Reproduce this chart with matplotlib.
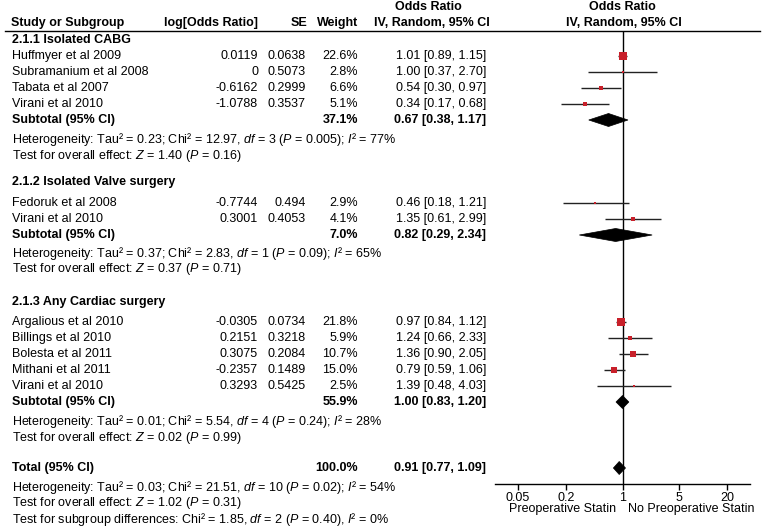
import numpy as np
import matplotlib
matplotlib.use("Agg")
import matplotlib.pyplot as plt
from matplotlib.patches import Polygon

plt.rcParams['font.family'] = ['Liberation Sans', 'DejaVu Sans']
plt.rcParams['mathtext.fontset'] = 'custom'
plt.rcParams['mathtext.rm'] = 'Liberation Sans'
plt.rcParams['mathtext.it'] = 'Liberation Sans:italic'
plt.rcParams['mathtext.bf'] = 'Liberation Sans:bold'

# ---------------- data ----------------
group_titles = ["2.1.1 Isolated CABG", "2.1.2 Isolated Valve surgery", "2.1.3 Any Cardiac surgery"]
study_group = [0, 0, 0, 0, 1, 1, 2, 2, 2, 2, 2]
study_names = ["Huffmyer et al 2009", "Subramanium et al 2008", "Tabata et al 2007", "Virani et al 2010",
               "Fedoruk et al 2008", "Virani et al 2010",
               "Argalious et al 2010", "Billings et al 2010", "Bolesta et al 2011", "Mithani et al 2011",
               "Virani et al 2010"]
log_or = ["0.0119", "0", "-0.6162", "-1.0788", "-0.7744", "0.3001",
          "-0.0305", "0.2151", "0.3075", "-0.2357", "0.3293"]
se = ["0.0638", "0.5073", "0.2999", "0.3537", "0.494", "0.4053",
      "0.0734", "0.3218", "0.2084", "0.1489", "0.5425"]
weight = [22.6, 2.8, 6.6, 5.1, 2.9, 4.1, 21.8, 5.9, 10.7, 15.0, 2.5]
or_est = [1.01, 1.00, 0.54, 0.34, 0.46, 1.35, 0.97, 1.24, 1.36, 0.79, 1.39]
ci_lo = [0.89, 0.37, 0.30, 0.17, 0.18, 0.61, 0.84, 0.66, 0.90, 0.59, 0.48]
ci_hi = [1.15, 2.70, 0.97, 0.68, 1.21, 2.99, 1.12, 2.33, 2.05, 1.06, 4.03]

sub_weight = [37.1, 7.0, 55.9]
sub_or = [0.67, 0.82, 1.00]
sub_lo = [0.38, 0.29, 0.83]
sub_hi = [1.17, 2.34, 1.20]

het_texts = [r"Heterogeneity: Tau² = 0.23; Chi² = 12.97, $\mathit{df}$ = 3 ($\mathit{P}$ = 0.005); $\mathit{I}$² = 77%",
             r"Heterogeneity: Tau² = 0.37; Chi² = 2.83, $\mathit{df}$ = 1 ($\mathit{P}$ = 0.09); $\mathit{I}$² = 65%",
             r"Heterogeneity: Tau² = 0.01; Chi² = 5.54, $\mathit{df}$ = 4 ($\mathit{P}$ = 0.24); $\mathit{I}$² = 28%"]
effect_texts = [r"Test for overall effect: $\mathit{Z}$ = 1.40 ($\mathit{P}$ = 0.16)",
                r"Test for overall effect: $\mathit{Z}$ = 0.37 ($\mathit{P}$ = 0.71)",
                r"Test for overall effect: $\mathit{Z}$ = 0.02 ($\mathit{P}$ = 0.99)"]

total_weight = 100.0
total_or, total_lo, total_hi = 0.91, 0.77, 1.09
total_texts = [r"Heterogeneity: Tau² = 0.03; Chi² = 21.51, $\mathit{df}$ = 10 ($\mathit{P}$ = 0.02); $\mathit{I}$² = 54%",
               r"Test for overall effect: $\mathit{Z}$ = 1.02 ($\mathit{P}$ = 0.31)",
               r"Test for subgroup differences: Chi² = 1.85, $\mathit{df}$ = 2 ($\mathit{P}$ = 0.40), $\mathit{I}$² = 0%"]

tick_vals = [0.05, 0.2, 1, 5, 20]
tick_labels = ["0.05", "0.2", "1", "5", "20"]
favours = ["Preoperative Statin", "No Preoperative Statin"]

# ---------------- layout (pixel rows) ----------------
W, H = 762, 530
group_y = [40, 182, 302]
study_y = [56, 72, 88, 104, 203, 219, 322, 338, 354, 370, 386]
sub_y = [120, 235, 402]
het_y = [140, 253, 422]
eff_y = [156, 269, 438]
total_y = 468
total_text_y = [487, 503, 520]

FS = 9
x_name = 12
x_log = 258
x_se = 306
x_w = 358
x_ci = 486

fig = plt.figure(figsize=(W / 100, H / 100), dpi=100)
tax = fig.add_axes([0, 0, 1, 1])
tax.set_xlim(0, W)
tax.set_ylim(H, 0)
tax.axis('off')

# forest axes: x pixel 495..750, y pixel 31..484
ax_l, ax_r, ax_t, ax_b = 495, 750, 31, 484
fax = fig.add_axes([ax_l / W, (H - ax_b) / H, (ax_r - ax_l) / W, (ax_b - ax_t) / H])
fax.set_xscale('log')
fax.set_xlim(10 ** -1.588, 10 ** 1.588)
fax.set_ylim(ax_b, ax_t)
fax.patch.set_alpha(0)
for s in ['top', 'left', 'right']:
    fax.spines[s].set_visible(False)
fax.spines['bottom'].set_linewidth(1.0)
fax.set_yticks([])
fax.set_xticks(tick_vals)
fax.set_xticklabels(tick_labels, fontsize=FS)
fax.minorticks_off()
fax.tick_params(axis='x', direction='out', length=4, width=1.0, pad=1.5)
fax.axvline(1, color='black', lw=1.0)

# headers
bold = dict(fontsize=FS, fontweight='bold', va='center')
tax.text(x_name - 1, 23, "Study or Subgroup", ha='left', **bold)
tax.text(x_log, 23, "log[Odds Ratio]", ha='right', **bold)
tax.text(x_se + 1, 23, "SE", ha='right', **bold)
tax.text(x_w, 23, "Weight", ha='right', **bold)
tax.text(428, 7, "Odds Ratio", ha='center', **bold)
tax.text(432, 23, "IV, Random, 95% CI", ha='center', **bold)
tax.text(622, 7, "Odds Ratio", ha='center', **bold)
tax.text(624, 23, "IV, Random, 95% CI", ha='center', **bold)
tax.plot([5, 760], [31, 31], color='black', lw=1.0)

norm = dict(fontsize=FS, va='center')
red = '#c8202a'

for g, title in enumerate(group_titles):
    tax.text(x_name, group_y[g], title, ha='left', **bold)

for i, name in enumerate(study_names):
    y = study_y[i]
    tax.text(x_name, y, name, ha='left', **norm)
    tax.text(x_log, y, log_or[i], ha='right', **norm)
    tax.text(x_se, y, se[i], ha='right', **norm)
    tax.text(x_w, y, f"{weight[i]:.1f}%", ha='right', **norm)
    tax.text(x_ci, y, f"{or_est[i]:.2f} [{ci_lo[i]:.2f}, {ci_hi[i]:.2f}]", ha='right', **norm)
    fax.plot([ci_lo[i], ci_hi[i]], [y, y], color='#222222', lw=1.0, solid_capstyle='butt', zorder=2)
    side_pt = 1.6 * np.sqrt(weight[i]) * 0.72
    fax.scatter([or_est[i]], [y], marker='s', s=side_pt ** 2, color=red, linewidths=0, zorder=3)


def diamond(est, lo, hi, y):
    poly = Polygon([[lo, y], [est, y - 6.5], [hi, y], [est, y + 6.5]], closed=True,
                   facecolor='black', edgecolor='black', lw=0.5, zorder=4)
    fax.add_patch(poly)


for g in range(3):
    y = sub_y[g]
    tax.text(x_name, y, "Subtotal (95% CI)", ha='left', **bold)
    tax.text(x_w, y, f"{sub_weight[g]:.1f}%", ha='right', **bold)
    tax.text(x_ci, y, f"{sub_or[g]:.2f} [{sub_lo[g]:.2f}, {sub_hi[g]:.2f}]", ha='right', **bold)
    diamond(sub_or[g], sub_lo[g], sub_hi[g], y)
    tax.text(x_name, het_y[g], het_texts[g], ha='left', **norm)
    tax.text(x_name, eff_y[g], effect_texts[g], ha='left', **norm)

tax.text(x_name, total_y, "Total (95% CI)", ha='left', **bold)
tax.text(x_w, total_y, f"{total_weight:.1f}%", ha='right', **bold)
tax.text(x_ci, total_y, f"{total_or:.2f} [{total_lo:.2f}, {total_hi:.2f}]", ha='right', **bold)
diamond(total_or, total_lo, total_hi, total_y)
for t, y in zip(total_texts, total_text_y):
    tax.text(x_name, y, t, ha='left', **norm)

tax.text(616, 509, favours[0], ha='right', **norm)
tax.text(628, 509, favours[1], ha='left', **norm)

fig.savefig("out.png", dpi=100)
